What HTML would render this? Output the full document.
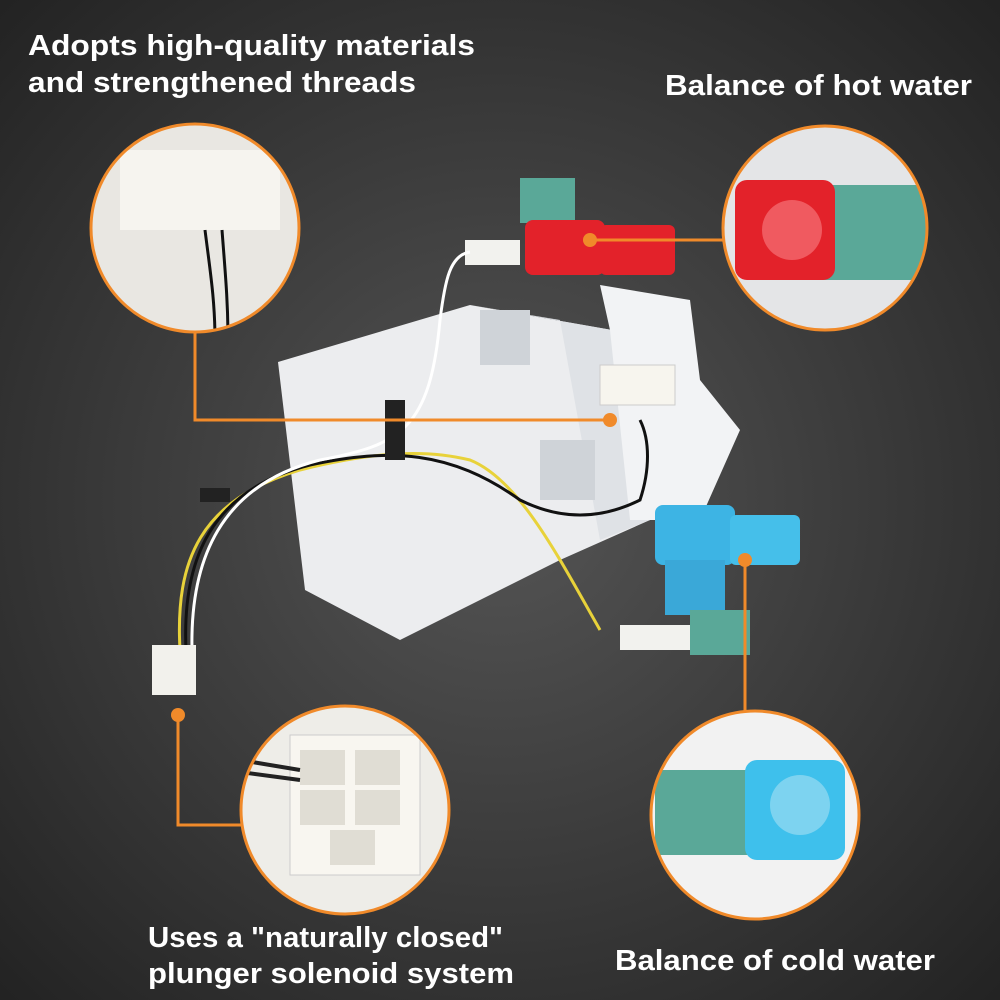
<!DOCTYPE html>
<html><head><meta charset="utf-8"><style>
html,body{margin:0;padding:0;width:1000px;height:1000px;overflow:hidden;background:#333}
svg{display:block}
text{font-family:"Liberation Sans",sans-serif;font-weight:bold;fill:#fff}
</style></head><body>
<svg width="1000" height="1000" viewBox="0 0 1000 1000">
<defs>
<radialGradient id="bg" cx="50%" cy="50%" r="70%">
<stop offset="0" stop-color="#555"/><stop offset="1" stop-color="#232323"/></radialGradient>
<clipPath id="c1"><circle cx="195" cy="228" r="103"/></clipPath>
<clipPath id="c2"><circle cx="825" cy="228" r="101"/></clipPath>
<clipPath id="c3"><circle cx="345" cy="810" r="103"/></clipPath>
<clipPath id="c4"><circle cx="755" cy="815" r="103"/></clipPath>
</defs>
<rect width="1000" height="1000" fill="url(#bg)"/>

<polygon points="278,362 470,305 612,330 650,520 560,560 400,640 305,590" fill="#ecedef"/>
<polygon points="470,305 612,330 650,520 600,540 560,320" fill="#dfe2e6"/>
<polygon points="600,285 690,300 700,380 740,430 700,520 630,520 610,330" fill="#f2f3f5"/>
<rect x="480" y="310" width="50" height="55" fill="#cfd3d8"/>
<rect x="540" y="440" width="55" height="60" fill="#cfd3d8"/>
<rect x="600" y="365" width="75" height="40" fill="#f7f5ee" stroke="#ccc"/>
<rect x="520" y="178" width="55" height="45" fill="#5aa898"/>
<rect x="525" y="220" width="80" height="55" rx="8" fill="#e3222a"/>
<rect x="600" y="225" width="75" height="50" rx="6" fill="#e3222a"/>
<rect x="465" y="240" width="55" height="25" fill="#f2f2ee"/>
<rect x="655" y="505" width="80" height="60" rx="8" fill="#3db4e4"/>
<rect x="730" y="515" width="70" height="50" rx="6" fill="#45bfea"/>
<rect x="665" y="560" width="60" height="55" fill="#3aa8d8"/>
<rect x="690" y="610" width="60" height="45" fill="#5aa898"/>
<rect x="620" y="625" width="70" height="25" fill="#f2f2ee"/>
<g fill="none" stroke-width="3">
<path d="M180,650 C175,560 200,500 300,470 C380,450 430,450 470,460 C520,480 560,560 600,630" stroke="#e8d23a"/>
<path d="M186,650 C182,560 210,490 310,465 C390,448 450,450 520,500 C560,520 600,520 640,500 C650,470 650,440 640,420" stroke="#111"/>
<path d="M192,650 C190,560 220,485 320,460 C400,445 430,430 440,320 C445,280 450,255 470,252" stroke="#fff"/>
</g>
<rect x="152" y="645" width="44" height="50" fill="#f2f1ec"/>
<rect x="385" y="400" width="20" height="60" fill="#222"/>
<rect x="200" y="488" width="30" height="14" fill="#222"/>

<g clip-path="url(#c1)"><rect x="80" y="110" width="240" height="230" fill="#e9e7e2"/><rect x="120" y="150" width="160" height="80" fill="#f6f4ef"/><path d="M205,230 C210,270 215,300 215,340 M222,230 C225,270 228,300 228,340" stroke="#111" stroke-width="3" fill="none"/></g>
<circle cx="195" cy="228" r="104" fill="none" stroke="#f08a2a" stroke-width="3"/>
<g clip-path="url(#c2)"><rect x="720" y="120" width="220" height="220" fill="#e4e5e7"/><rect x="820" y="185" width="110" height="95" fill="#5aa898"/><rect x="735" y="180" width="100" height="100" rx="12" fill="#e3222a"/><circle cx="792" cy="230" r="30" fill="#f05a60"/></g>
<circle cx="825" cy="228" r="102" fill="none" stroke="#f08a2a" stroke-width="3"/>
<g clip-path="url(#c3)"><rect x="235" y="700" width="230" height="220" fill="#eeede8"/><rect x="290" y="735" width="130" height="140" fill="#f8f6f0" stroke="#ccc"/><rect x="300" y="750" width="45" height="35" fill="#e0ddd4"/><rect x="355" y="750" width="45" height="35" fill="#e0ddd4"/><rect x="300" y="790" width="45" height="35" fill="#e0ddd4"/><rect x="355" y="790" width="45" height="35" fill="#e0ddd4"/><rect x="330" y="830" width="45" height="35" fill="#e0ddd4"/><path d="M240,760 L300,770 M240,772 L300,780" stroke="#222" stroke-width="4"/></g>
<circle cx="345" cy="810" r="104" fill="none" stroke="#f08a2a" stroke-width="3"/>
<g clip-path="url(#c4)"><rect x="650" y="710" width="220" height="220" fill="#f2f2f2"/><rect x="655" y="770" width="95" height="85" fill="#5aa898"/><rect x="745" y="760" width="100" height="100" rx="12" fill="#3ec0ec"/><circle cx="800" cy="805" r="30" fill="#7dd3f0"/></g>
<circle cx="755" cy="815" r="104" fill="none" stroke="#f08a2a" stroke-width="3"/>

<g stroke="#f08a2a" stroke-width="3" fill="none">
<polyline points="195,332 195,420 610,420"/>
<line x1="723" y1="240" x2="590" y2="240"/>
<polyline points="178,715 178,825 241,825"/>
<line x1="745" y1="560" x2="745" y2="711"/>
</g>
<g fill="#f08a2a">
<circle cx="610" cy="420" r="7"/><circle cx="590" cy="240" r="7"/><circle cx="178" cy="715" r="7"/><circle cx="745" cy="560" r="7"/>
</g>

<text x="28" y="55" font-size="29" textLength="447" lengthAdjust="spacingAndGlyphs">Adopts high-quality materials</text>
<text x="28" y="92" font-size="29" textLength="388" lengthAdjust="spacingAndGlyphs">and strengthened threads</text>
<text x="665" y="95" font-size="29" textLength="307" lengthAdjust="spacingAndGlyphs">Balance of hot water</text>
<text x="148" y="947" font-size="29" textLength="355" lengthAdjust="spacingAndGlyphs">Uses a "naturally closed"</text>
<text x="148" y="983" font-size="29" textLength="366" lengthAdjust="spacingAndGlyphs">plunger solenoid system</text>
<text x="615" y="970" font-size="29" textLength="320" lengthAdjust="spacingAndGlyphs">Balance of cold water</text>
</svg>
</body></html>
